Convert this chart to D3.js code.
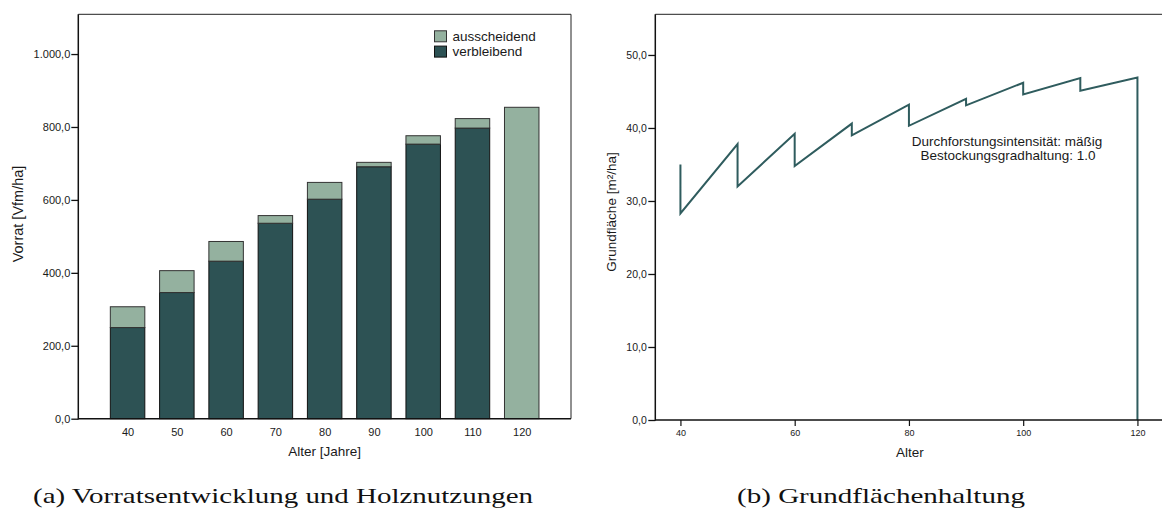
<!DOCTYPE html>
<html><head><meta charset="utf-8">
<script src="https://cdn.jsdelivr.net/npm/d3@7"></script>
<style>
body{margin:0;background:#fff;}
svg{display:block;}
text{font-family:"Liberation Sans",Arial,sans-serif;fill:#1a1a1a;}
.cap{font-family:"Liberation Serif","Times New Roman",serif;fill:#111;}
</style></head>
<body>
<svg id="chart" width="1162" height="514"></svg>
<script>
// ---- data (a) ----
const ages = ["40","50","60","70","80","90","100","110","120"];
const verbleibend = [250, 346, 432, 536, 602, 691, 753, 797, 0];
const ausscheidend = [57, 60, 54, 21, 46, 12, 23, 26, 854];
const yTicksA = [0, 200, 400, 600, 800, 1000];
// ---- data (b) ----
const lineAge = [40,40,50,50,60,60,70,70,80,80,90,90,100,100,110,110,120,120];
const lineG   = [35.0,28.3,37.8,32.0,39.2,34.8,40.6,39.0,43.2,40.3,44.0,43.1,46.2,44.6,46.85,45.1,46.9,0];
const xTicksB = [40, 60, 80, 100, 120];
const yTicksB = [0, 10, 20, 30, 40, 50];

const cDark = "#2d5254", cLight = "#94b19f", cLine = "#2f5c5e";
const de = d3.formatLocale({decimal:",", thousands:".", grouping:[3], currency:["","€"]});
const fmt = de.format(",.1f");

const svg = d3.select("#chart");

// ================= Chart (a) =================
const A = {l:78.3, r:571, t:14.3, b:418.7};
const xA = d3.scalePoint().domain(ages).range([A.l, A.r]).padding(1);
const yA = d3.scaleLinear().domain([0, 1109]).range([A.b, A.t]);
const bw = xA.step() * 0.7;
const gA = svg.append("g");

gA.append("path").attr("d", `M${A.l},${A.t}H${A.r}V${A.b}`).attr("fill","none").attr("stroke","#222").attr("stroke-width",1);

const rows = ages.map((a,i)=>({a, v:verbleibend[i], s:ausscheidend[i]}));
gA.selectAll(".bv").data(rows.filter(d=>d.v>0)).join("rect")
  .attr("x", d=>xA(d.a)-bw/2).attr("width", bw)
  .attr("y", d=>yA(d.v)).attr("height", d=>yA(0)-yA(d.v))
  .attr("fill", cDark).attr("stroke","#111").attr("stroke-width",1);
gA.selectAll(".bs").data(rows).join("rect")
  .attr("x", d=>xA(d.a)-bw/2).attr("width", bw)
  .attr("y", d=>yA(d.v+d.s)).attr("height", d=>yA(d.v)-yA(d.v+d.s))
  .attr("fill", cLight).attr("stroke","#333").attr("stroke-width",1);

const axYA = gA.append("g").attr("transform",`translate(${A.l},0)`)
  .call(d3.axisLeft(yA).tickValues(yTicksA).tickFormat(fmt).tickSize(7).tickPadding(1));
axYA.select(".domain").remove();
axYA.selectAll("line").attr("stroke","#111").attr("stroke-width",1.3);
axYA.selectAll("text").style("font-size","11px").attr("fill","#1a1a1a");
gA.append("line").attr("x1",A.l).attr("x2",A.l).attr("y1",A.t).attr("y2",A.b+0.7).attr("stroke","#111").attr("stroke-width",1.5);

const axXA = gA.append("g").attr("transform",`translate(0,${A.b})`)
  .call(d3.axisBottom(xA).tickSize(0).tickPadding(10));
axXA.select(".domain").remove();
axXA.selectAll("text").style("font-size","11px").attr("fill","#1a1a1a");
gA.append("line").attr("x1",A.l).attr("x2",A.r).attr("y1",A.b).attr("y2",A.b).attr("stroke","#111").attr("stroke-width",1.5);

gA.append("text").attr("x",(A.l+A.r)/2).attr("y",456).attr("text-anchor","middle").style("font-size","13.5px").text("Alter [Jahre]");
gA.append("text").attr("transform",`translate(22.5,214) rotate(-90)`).attr("text-anchor","middle").style("font-size","14.5px").text("Vorrat [Vfm/ha]");

const leg = [{n:"ausscheidend", c:cLight, s:"#333"},{n:"verbleibend", c:cDark, s:"#111"}];
const lg = gA.selectAll(".lg").data(leg).join("g").attr("transform",(d,i)=>`translate(434.5,${30.8+i*15.3})`);
lg.append("rect").attr("width",12).attr("height",11).attr("fill",d=>d.c).attr("stroke",d=>d.s);
lg.append("text").attr("x",18).attr("y",10).style("font-size","13.5px").text(d=>d.n);

svg.append("text").attr("class","cap").attr("x",33).attr("y",503).style("font-size","21px")
  .attr("textLength",500).attr("lengthAdjust","spacingAndGlyphs").text("(a) Vorratsentwicklung und Holznutzungen");

// ================= Chart (b) =================
const B = {l:655.3, r:1170, t:14.3, b:420};
const xB = d3.scaleLinear().domain([35.6, 125.7]).range([B.l, B.r]);
const yB = d3.scaleLinear().domain([0, 55.57]).range([B.b, B.t]);
const gB = svg.append("g");
gB.append("line").attr("x1",B.l).attr("x2",B.r).attr("y1",B.t).attr("y2",B.t).attr("stroke","#222").attr("stroke-width",1);

const pts = lineAge.map((a,i)=>[a, lineG[i]]);
gB.append("path").datum(pts)
  .attr("d", d3.line().x(d=>xB(d[0])).y(d=>yB(d[1])))
  .attr("fill","none").attr("stroke",cLine).attr("stroke-width",2).attr("stroke-linejoin","miter");

const axYB = gB.append("g").attr("transform",`translate(${B.l},0)`)
  .call(d3.axisLeft(yB).tickValues(yTicksB).tickFormat(fmt).tickSize(7).tickPadding(1.5));
axYB.select(".domain").remove();
axYB.selectAll("line").attr("stroke","#111").attr("stroke-width",1.3);
axYB.selectAll("text").style("font-size","10.5px").attr("fill","#1a1a1a");
gB.append("line").attr("x1",B.l).attr("x2",B.l).attr("y1",B.t).attr("y2",B.b+0.7).attr("stroke","#111").attr("stroke-width",1.5);

const axXB = gB.append("g").attr("transform",`translate(0,${B.b})`)
  .call(d3.axisBottom(xB).tickValues(xTicksB).tickFormat(d3.format("d")).tickSize(6).tickPadding(4));
axXB.select(".domain").remove();
axXB.selectAll("line").attr("stroke","#111").attr("stroke-width",1.2);
axXB.selectAll("text").style("font-size","9px").attr("fill","#1a1a1a");
gB.append("line").attr("x1",B.l).attr("x2",B.r).attr("y1",B.b).attr("y2",B.b).attr("stroke","#111").attr("stroke-width",1.5);

gB.append("text").attr("x",910).attr("y",457).attr("text-anchor","middle").style("font-size","13.5px").text("Alter");
gB.append("text").attr("transform",`translate(616,212) rotate(-90)`).attr("text-anchor","middle").style("font-size","13.5px").text("Grundfläche [m²/ha]");

gB.append("text").attr("x",1007).attr("y",145.5).attr("text-anchor","middle").style("font-size","13.5px").text("Durchforstungsintensität: mäßig");
gB.append("text").attr("x",1008).attr("y",159.5).attr("text-anchor","middle").style("font-size","13.5px").text("Bestockungsgradhaltung: 1.0");

svg.append("text").attr("class","cap").attr("x",737).attr("y",503).style("font-size","21px")
  .attr("textLength",288).attr("lengthAdjust","spacingAndGlyphs").text("(b) Grundflächenhaltung");
</script>
</body></html>
